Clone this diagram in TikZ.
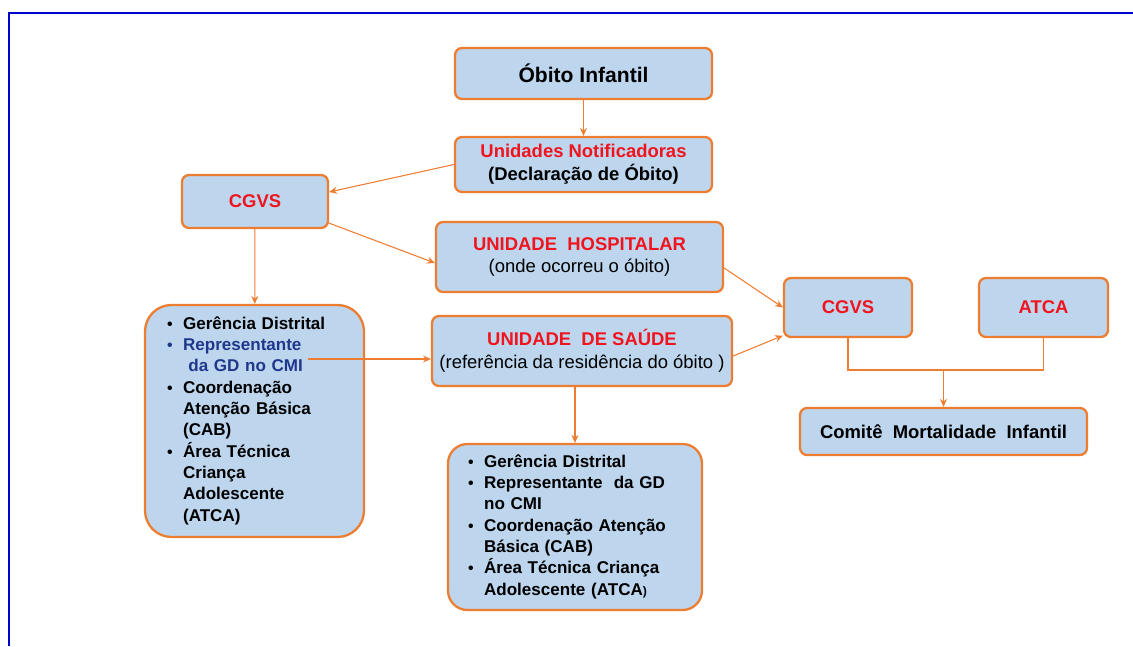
\documentclass[tikz,border=0pt]{standalone}
\usepackage{fontspec}
\setmainfont{Liberation Sans}
\usetikzlibrary{arrows.meta}
\definecolor{boxfill}{RGB}{189,214,238}
\definecolor{boxline}{RGB}{237,125,49}
\definecolor{frameblue}{RGB}{0,0,204}
\definecolor{labred}{RGB}{240,20,30}
\definecolor{gdblue}{RGB}{31,56,140}
\newcommand{\blt}{{\small\textbullet}}
\begin{document}
\begin{tikzpicture}[x=0.02cm,y=-0.02cm,
    box/.style={draw=boxline,fill=boxfill,line width=1.3pt,rounded corners=4pt,
      align=center,inner sep=0pt,font=\bfseries\fontsize{10.5}{13}\selectfont},
    listbox/.style={box,align=left,font=\bfseries\fontsize{9.7}{12.1}\selectfont},
    flow/.style={-{Stealth[length=4.5pt,width=4pt]},draw=boxline,line width=0.6pt}]
    \useasboundingbox (0,0) rectangle (1133,646);
    %myframe
    \draw [frameblue,line width=1.7pt] (9,646) -- (9,13) -- (1133,13);

    %topboxes
    \node[box,minimum width=5.14cm,minimum height=1.02cm,font=\bfseries\fontsize{12}{14}\selectfont] (obito) at (583.5,73.5) {Óbito Infantil};
    \node[box,minimum width=5.14cm,minimum height=1.1cm] (notif) at (583.5,164.5)
      {\textcolor{labred}{Unidades Notificadoras}\\(Declaração de Óbito)};
    \node[box,minimum width=2.92cm,minimum height=1.06cm] (cgvsA) at (255,201.5) {\textcolor{labred}{CGVS}};
    \node[box,minimum width=5.74cm,minimum height=1.4cm] (hosp) at (579.5,257)
      {\textcolor{labred}{UNIDADE\ \ HOSPITALAR}\\{\mdseries (onde ocorreu o óbito)}};
    \node[box,minimum width=6cm,minimum height=1.4cm] (saude) at (582,351)
      {\textcolor{labred}{UNIDADE\ \ DE SAÚDE}\\{\mdseries (referência da residência do óbito )}};

    %lists
    \node[listbox,rounded corners=15pt,minimum width=4.38cm,minimum height=4.64cm,text width=3.5cm,inner xsep=0.44cm] (gdA) at (254.5,421)
      {\begin{tabular}{@{}l@{\hspace{6pt}}l@{}}
        \blt & Gerência Distrital\\
        \textcolor{gdblue}{\blt} & \textcolor{gdblue}{Representante}\\
         & \hspace{3pt}\textcolor{gdblue}{da GD no CMI}\\
        \blt & Coordenação\\
         & Atenção Básica\\
         & (CAB)\\
        \blt & Área Técnica\\
         & Criança\\
         & Adolescente\\
         & (ATCA)
      \end{tabular}};
    \node[listbox,rounded corners=11pt,minimum width=5.08cm,minimum height=3.32cm,text width=4.28cm,inner xsep=0.4cm] (gdB) at (575,527)
      {\begin{tabular}{@{}l@{\hspace{6pt}}l@{}}
        \blt & Gerência Distrital\\
        \blt & Representante\ \ da GD\\
         & no CMI\\
        \blt & Coordenação Atenção\\
         & Básica (CAB)\\
        \blt & Área Técnica Criança\\
         & Adolescente (ATCA{\scriptsize)}
      \end{tabular}};

    %committee
    \node[box,minimum width=2.56cm,minimum height=1.18cm] (cgvsB) at (848,307.5) {\textcolor{labred}{CGVS}};
    \node[box,minimum width=2.58cm,minimum height=1.18cm] (atca) at (1043.5,307.5) {\textcolor{labred}{ATCA}};
    \node[box,minimum width=5.74cm,minimum height=0.94cm] (comite) at (943.5,431.5) {Comitê\ \ Mortalidade\ \ Infantil};

    %arrows
    \draw[flow] (obito) -- (notif);
    \draw[flow] (notif.west) -- ([yshift=0.19cm]cgvsA.east);
    \draw[flow] ([yshift=0.12cm]cgvsA.south east) -- ([yshift=-0.12cm]hosp.west);
    \draw[flow] (cgvsA) -- (gdA);
    \coordinate (gdout) at (308,359);
    \draw[flow] (gdout) -- (gdout -| saude.west);
    \draw[flow] (gdB.north |- saude.south) -- (gdB.north);
    \draw[flow] ([yshift=-0.22cm]hosp.east) -- (cgvsB.west);
    \draw[flow] ([yshift=-0.1cm]saude.east) -- ([yshift=0.05cm]cgvsB.south west);
    \coordinate (join) at (943.5,370);
    \draw[boxline,line width=0.6pt] (cgvsB.south) |- (join) -| (atca.south);
    \draw[flow] (join) -- (comite.north);
\end{tikzpicture}
\end{document}
